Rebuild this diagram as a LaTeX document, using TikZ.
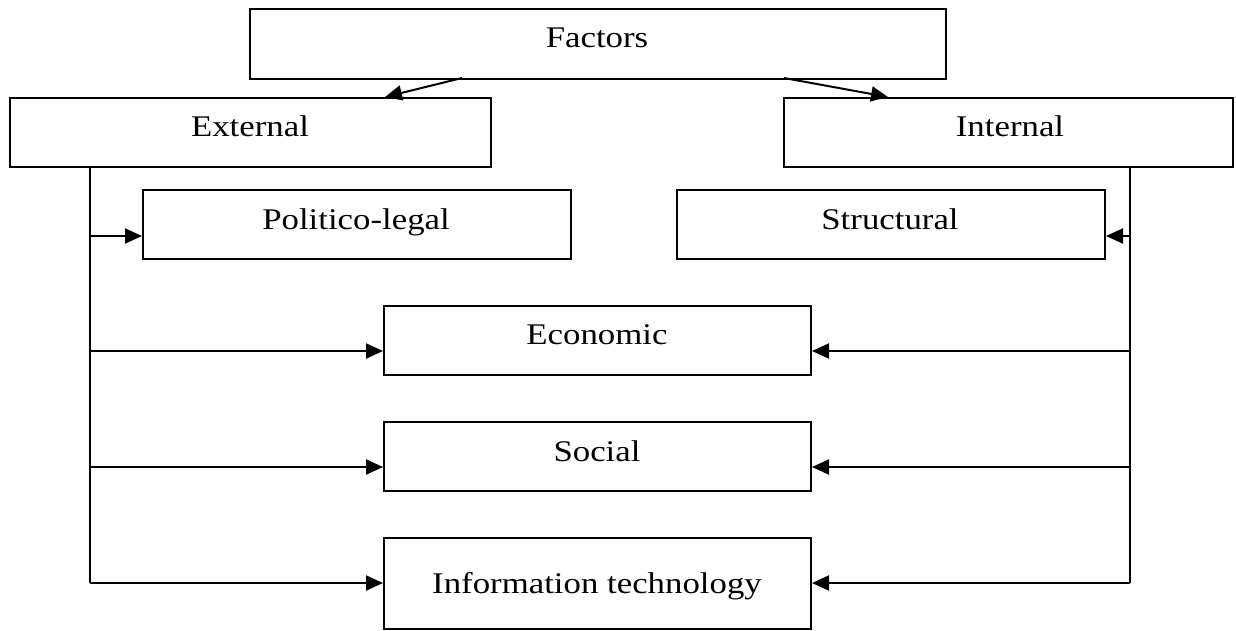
\documentclass[tikz,border=0pt]{standalone}
\usepackage{fontspec}
\setmainfont{Liberation Serif}
\usetikzlibrary{arrows.meta}
\newcommand\wtxt[1]{\scalebox{1.16}[1]{#1}}
\tikzset{
  boxnode/.style={draw, line width=2pt, inner sep=0pt, anchor=north west},
  txt/.style={anchor=base, inner sep=0pt, font=\fontsize{30}{36}\selectfont},
  conn/.style={line width=2pt},
  arr/.style={line width=2pt, -{Triangle[length=17pt,width=15pt]}},
}
\begin{document}
\begin{tikzpicture}[x=1pt,y=-1pt]
\useasboundingbox (0,0) rectangle (1236,630);
% boxes
\node[boxnode, minimum width=696pt, minimum height=70pt] (Fac) at (249,8) {};
\node[boxnode, minimum width=481pt, minimum height=69pt] (Ext) at (9,97) {};
\node[boxnode, minimum width=449pt, minimum height=69pt] (Int) at (783,97) {};
\node[boxnode, minimum width=428pt, minimum height=69pt] (Pol) at (142,189) {};
\node[boxnode, minimum width=428pt, minimum height=69pt] (Str) at (676,189) {};
\node[boxnode, minimum width=427pt, minimum height=69pt] (Eco) at (383,305) {};
\node[boxnode, minimum width=427pt, minimum height=69pt] (Soc) at (383,421) {};
\node[boxnode, minimum width=427pt, minimum height=91pt] (ITb) at (383,537) {};
% texts
\node[txt] (tFac) at (597,47) {\wtxt{Factors}};
\node[txt] (tExt) at (250,136) {\wtxt{External}};
\node[txt] (tInt) at (1010,136) {\wtxt{Internal}};
\node[txt] (tPol) at (356,229) {\wtxt{Politico-legal}};
\node[txt] (tStr) at (890,229) {\wtxt{Structural}};
\node[txt] (tEco) at (597,344) {\wtxt{Economic}};
\node[txt] (tSoc) at (597,461) {\wtxt{Social}};
\node[txt] (tIT) at (597,593) {\wtxt{Information technology}};
% top arrows
\coordinate (f1) at (462,78);
\coordinate (e1) at (385,97);
\coordinate (f2) at (784,78);
\coordinate (i1) at (888,97);
\draw[arr] (f1) -- (e1);
\draw[arr] (f2) -- (i1);
% left trunk
\coordinate (lt) at (90,166);
\coordinate (l1) at (90,236);
\coordinate (l2) at (90,351);
\coordinate (l3) at (90,467);
\coordinate (l4) at (90,583);
\draw[conn] (lt) -- (l4);
\draw[arr] (l1) -- (l1 -| Pol.west);
\draw[arr] (l2) -- (l2 -| Eco.west);
\draw[arr] (l3) -- (l3 -| Soc.west);
\draw[arr] (l4) -- (l4 -| ITb.west);
% right trunk
\coordinate (rt) at (1130,166);
\coordinate (r1) at (1130,236);
\coordinate (r2) at (1130,351);
\coordinate (r3) at (1130,467);
\coordinate (r4) at (1130,583);
\draw[conn] (rt) -- (r4);
\draw[arr] (r1) -- (r1 -| Str.east);
\draw[arr] (r2) -- (r2 -| Eco.east);
\draw[arr] (r3) -- (r3 -| Soc.east);
\draw[arr] (r4) -- (r4 -| ITb.east);
\end{tikzpicture}
\end{document}
